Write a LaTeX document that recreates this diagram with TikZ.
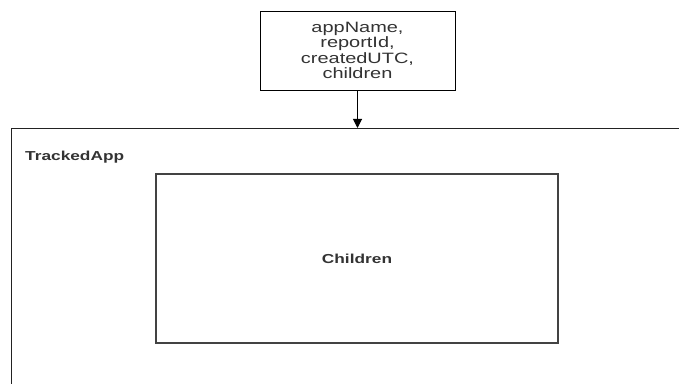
\documentclass[tikz,border=0pt]{standalone}
\usepackage{fontspec}
\setmainfont{Liberation Sans}
\newfontfamily\widesans[FakeStretch=1.33]{Liberation Sans}
\usetikzlibrary{arrows.meta}
\definecolor{ink}{HTML}{333333}
\definecolor{edge}{HTML}{222222}
\tikzset{
  x=1pt, y=1pt,
  fieldbox/.style={draw=black, line width=0.9pt, minimum width=195pt, minimum height=79pt,
    inner sep=0pt, align=center, text=ink,
    font=\widesans\fontsize{15}{15.6}\selectfont},
  frame/.style={draw=edge, line width=1.4pt, anchor=north west,
    minimum width=720pt, minimum height=300pt},
  innerbox/.style={draw=edge!85, line width=1.3pt, minimum width=402pt, minimum height=169pt,
    text=ink, font=\widesans\bfseries\fontsize{13}{15}\selectfont},
  caption/.style={anchor=west, inner sep=0pt, text=ink,
    font=\widesans\bfseries\fontsize{13}{15}\selectfont},
  flow/.style={draw=black, line width=1pt, -{Triangle[width=9pt,length=9pt]}}
}
\begin{document}
\begin{tikzpicture}
\clip (0,0) rectangle (679,383);
\fill[white] (0,0) rectangle (679,383);
% record fields
\node[fieldbox] (fields) at (357.5,332.5) {appName,\\reportId,\\createdUTC,\\children};
% outer container, running off the right and bottom edges
\node[frame] (app) at (11,255) {};
\node[caption] (applabel) at (25,226) {TrackedApp};
% nested children area
\node[innerbox] (kids) at (357,124.5) {Children};
% fields flow into the container
\draw[flow] (fields.south) -- (fields.south |- app.north);
\end{tikzpicture}
\end{document}
